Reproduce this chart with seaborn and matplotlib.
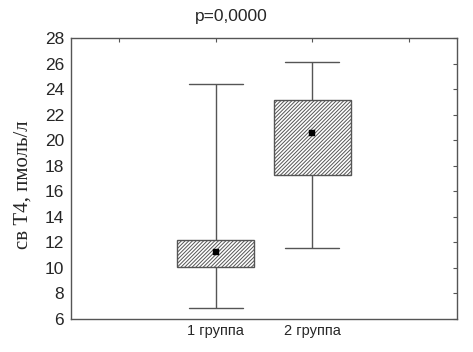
import matplotlib
matplotlib.use('Agg')
import matplotlib.pyplot as plt
import seaborn as sns
import pandas as pd

# Сводка по группам: мин, 25%, медиана, 75%, макс
groups = ['1 группа', '2 группа']
g1_stats = [6.85, 10.1, 11.25, 12.15, 24.4]
g2_stats = [11.55, 17.25, 20.55, 23.15, 26.1]
p_text = 'p=0,0000'
y_label = 'св Т4, пмоль/л'
y_ticks = list(range(6, 29, 2))

df = pd.DataFrame({
    'group': [groups[0]] * len(g1_stats) + [groups[1]] * len(g2_stats),
    'value': g1_stats + g2_stats,
})
medians = pd.DataFrame({'group': groups, 'value': [g1_stats[2], g2_stats[2]]})

sns.set_style('white')
plt.rcParams['font.family'] = ['Liberation Sans', 'DejaVu Sans']
plt.rcParams['hatch.color'] = '#707070'
plt.rcParams['hatch.linewidth'] = 0.7

fig = plt.figure(figsize=(4.73, 3.52), dpi=100)
ax = fig.add_axes([0.150, 0.094, 0.816, 0.798])

order = [' ', groups[0], groups[1], '  ']
line_col = '#555555'
sns.boxplot(data=df, x='group', y='value', order=order, ax=ax,
            whis=(0, 100), width=0.8, color='white', linewidth=1.0,
            linecolor=line_col, capwidths=0.56,
            medianprops=dict(visible=False), showfliers=False)
for patch in ax.patches:
    patch.set_hatch('/////////')
    patch.set_facecolor('white')
    patch.set_edgecolor(line_col)

sns.scatterplot(data=medians, x='group', y='value', ax=ax, marker='s',
                s=14, color='black', edgecolor='black', zorder=5)

ax.set_xlim(-0.5, 3.5)
ax.set_ylim(6, 28)
ax.set_yticks(y_ticks)
ax.set_xticks(range(4))
ax.set_xticklabels(['', groups[0], groups[1], ''], fontsize=10.5)
ax.tick_params(axis='y', labelsize=12.5, direction='out', length=4, width=0.8,
               color=line_col, pad=1, right=True)
ax.tick_params(axis='x', direction='in', length=3, width=0.8,
               color=line_col, pad=4, top=True)
for t in ax.yaxis.get_major_ticks():
    t.tick2line.set_marker(matplotlib.lines.TICKLEFT)
    t.tick2line.set_markersize(3)

for s in ax.spines.values():
    s.set_visible(True)
    s.set_color(line_col)
    s.set_linewidth(1.0)

ax.set_xlabel('')
ax.set_ylabel(y_label, fontsize=15, family=['Liberation Serif', 'DejaVu Serif'])
ax.yaxis.set_label_coords(-0.10, 0.477)
fig.text(0.488, 0.952, p_text, ha='center', va='center', fontsize=12.5)

fig.savefig('out.png', dpi=100)
